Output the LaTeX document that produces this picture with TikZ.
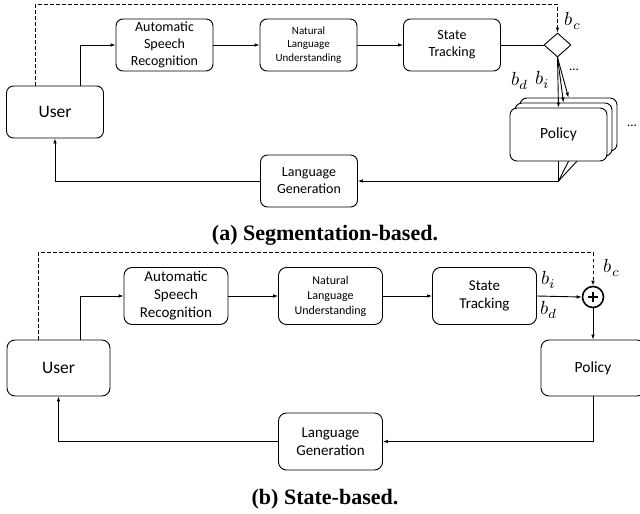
\documentclass[tikz,border=0pt]{standalone}
\usepackage{fontspec}
\usepackage{unicode-math}
\setmathfont{Latin Modern Math}
\usetikzlibrary{arrows.meta,shapes.geometric,calc}
\newfontfamily\boxfont{Carlito}
\newfontfamily\capfont{Liberation Serif}
\newcommand{\blabtext}[1]{\scalebox{1.9}{$#1$}}
\begin{document}
\begin{tikzpicture}[x=1pt,y=-1pt,
  line width=0.9pt,
  >={Latex[length=5pt,width=3.6pt]},
  boxa/.style={draw,rounded corners=7pt,fill=white,minimum width=97pt,minimum height=52pt,align=center,inner sep=0pt},
  boxb/.style={draw,rounded corners=8pt,fill=white,minimum width=104pt,minimum height=57pt,align=center,inner sep=0pt},
  fa/.style={font=\boxfont\fontsize{14}{17}\selectfont},
  fas/.style={font=\boxfont\fontsize{11}{13.5}\selectfont},
  fb/.style={font=\boxfont\fontsize{15}{18}\selectfont},
  fbs/.style={font=\boxfont\fontsize{12}{15}\selectfont},
  fuser/.style={font=\boxfont\fontsize{17.5}{20}\selectfont},
  fpol/.style={font=\boxfont\fontsize{15.5}{18}\selectfont},
  blab/.style={inner sep=0pt},
  dotlab/.style={font=\boxfont\fontsize{13}{15}\selectfont,inner sep=0pt},
  capt/.style={font=\capfont\bfseries\fontsize{22}{26}\selectfont,inner sep=0pt},
  dashline/.style={dash pattern=on 3.5pt off 2.5pt}
]
\useasboundingbox (0,0) rectangle (640,514);

% ---------------- (a) Segmentation-based ----------------
\node[boxa,fuser] (ua) at (55,112) {User};
\node[boxa,fa] (asra) at (164.5,45) {Automatic\\Speech\\Recognition};
\node[boxa,fas] (nlua) at (308.5,45) {Natural\\Language\\Understanding};
\node[boxa,fa] (sta) at (452,45) {State\\Tracking};
\node[draw,diamond,fill=white,minimum width=27pt,minimum height=24pt,inner sep=0pt] (dia) at (557.5,45) {};
\node[boxa,fa,minimum height=53pt] (pol3) at (568.5,124.5) {};
\node[boxa,fa,minimum height=53pt] (pol2) at (563.5,129.5) {};
\coordinate (conv) at (558.5,181);
\draw ([xshift=17.5pt]pol3.south) -- (conv);
\draw ([xshift=7.5pt]pol2.south) -- (conv);
\node[boxa,fpol,minimum height=53pt] (pol1) at (558.5,134.5) {Policy};
\draw (pol1.south) -- (conv);
\node[boxa,fa] (lga) at (309,181) {Language\\Generation};

\draw[->] ([xshift=25pt]ua.north) |- (asra.west);
\draw[->] (asra) -- (nlua);
\draw[->] (nlua) -- (sta);
\draw (sta) -- (dia);
\draw[dashline,->] ([xshift=-20pt]ua.north) -- ++(0,-81) -| (dia.north);
\draw[->] (dia.south) -- (pol1.north);
\draw[->] (dia.south) -- (pol2.north);
\draw[->] (dia.south) -- (pol3.north);
\draw[->] (conv) -- (lga.east);
\draw[->] (lga.west) -| (ua.south);

\node[blab] (bca) at (573,21) {\blabtext{b_c}};
\node[blab] (bda) at (520,81) {\blabtext{b_d}};
\node[blab] (bia) at (543,80) {\blabtext{b_i}};
\node[dotlab] (d1a) at (574,70) {...};
\node[dotlab] (d2a) at (632,126) {...};

\node[capt] (capa) at (325,235) {(a) Segmentation-based.};

% ---------------- (b) State-based ----------------
\node[boxb,fuser,minimum width=103pt,minimum height=56pt] (ub) at (58.5,368) {User};
\node[boxb,fb] (asrb) at (176,296) {Automatic\\Speech\\Recognition};
\node[boxb,fbs] (nlub) at (330.5,296) {Natural\\Language\\Understanding};
\node[boxb,fb] (stb) at (484.5,296) {State\\Tracking};
\node[draw,circle,line width=1.6pt,minimum size=21pt,inner sep=0pt] (plus) at (593,297) {};
\draw[line width=1.3pt] ($(plus.center)+(-5,0)$) -- ($(plus.center)+(5,0)$);
\draw[line width=1.3pt] ($(plus.center)+(0,-5)$) -- ($(plus.center)+(0,5)$);
\node[boxb,fpol,minimum height=56pt] (polb) at (593,368) {Policy};
\node[boxb,fb] (lgb) at (330.5,441.5) {Language\\Generation};

\draw[->] ([xshift=21.5pt]ub.north) |- (asrb.west);
\draw[->] (asrb) -- (nlub);
\draw[->] (nlub) -- (stb);
\draw[->] (stb.east) -- (plus.west);
\draw[dashline,->] ([xshift=-20.5pt]ub.north) -- ++(0,-87) -| (plus.north);
\draw[->] (plus.south) -- (polb.north);
\draw[->] (polb.south) |- (lgb.east);
\draw[->] (lgb.west) -| (ub.south);

\node[blab] (bib) at (549,280) {\blabtext{b_i}};
\node[blab] (bdb) at (549,310) {\blabtext{b_d}};
\node[blab] (bcb) at (612,268) {\blabtext{b_c}};

\node[capt] (capb) at (325,499) {(b) State-based.};
\end{tikzpicture}
\end{document}
